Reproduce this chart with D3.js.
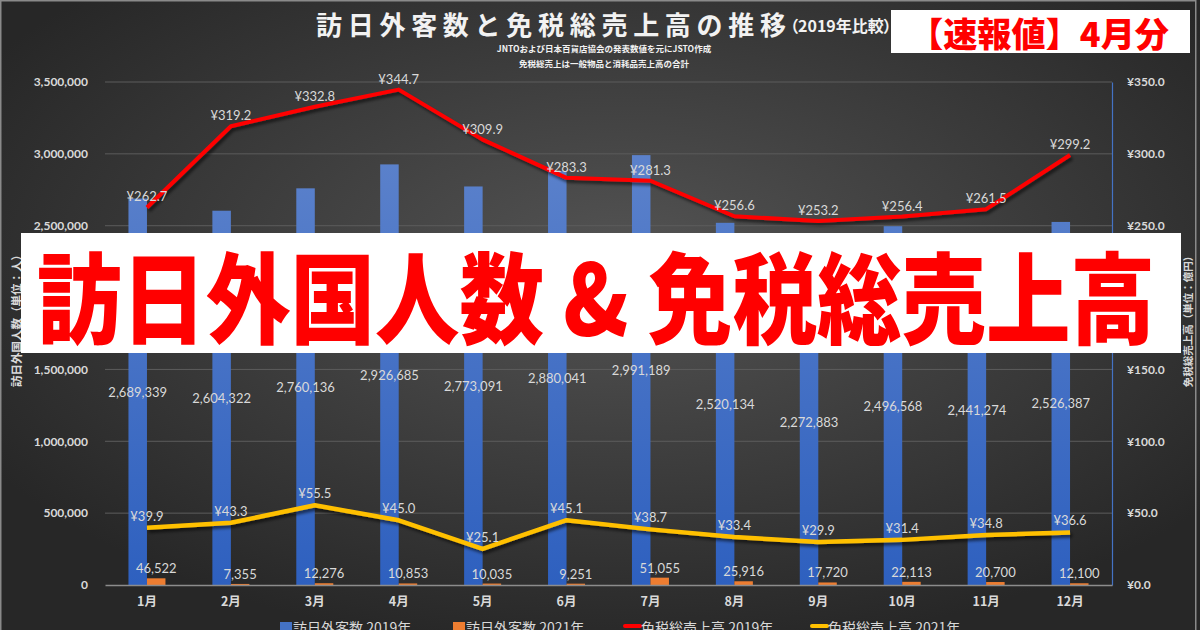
<!DOCTYPE html>
<html lang="ja">
<head>
<meta charset="UTF-8">
<title>訪日外客数と免税総売上高の推移</title>
<style>
    *{ margin:0; padding:0; box-sizing:border-box; }
    body{ width:1200px; height:630px; overflow:hidden; background:#333; }
    #main{ width:1200px; height:630px; }
    text{ font-family:"Noto Sans CJK JP","Noto Sans",sans-serif; }
    .num{ font-family:Lato,"Open Sans",sans-serif; }
</style>
</head>
<body>
<div id="main"></div>
<script src="https://d3js.org/d3.v7.min.js"></script>
<script>
    /* ---------- data ---------- */
    const months = ['1月','2月','3月','4月','5月','6月','7月','8月','9月','10月','11月','12月'];
    const visitors2019 = [2689339,2604322,2760136,2926685,2773091,2880041,2991189,2520134,2272883,2496568,2441274,2526387];
    const visitors2021 = [46522,7355,12276,10853,10035,9251,51055,25916,17720,22113,20700,12100];
    const sales2019 = [262.7,319.2,332.8,344.7,309.9,283.3,281.3,256.6,253.2,256.4,261.5,299.2];
    const sales2021 = [39.9,43.3,55.5,45.0,25.1,45.1,38.7,33.4,29.9,31.4,34.8,36.6];
    const leftTicks = [0,500000,1000000,1500000,2000000,2500000,3000000,3500000];
    const rightTicks = [0,50,100,150,200,250,300,350];
    const legendNames = ['訪日外客数 2019年','訪日外客数 2021年','免税総売上高 2019年','免税総売上高 2021年'];

    /* ---------- svg ---------- */
    const width = 1200, height = 630;
    const svg = d3.select('#main').append('svg')
        .attr('width', width).attr('height', height)
        .attr('viewBox', `0 0 ${width} ${height}`);

    const defs = svg.append('defs');
    const bg = defs.append('radialGradient').attr('id','bg')
        .attr('cx','52%').attr('cy','42%').attr('r','62%');
    bg.append('stop').attr('offset','0%').attr('stop-color','#545454');
    bg.append('stop').attr('offset','100%').attr('stop-color','#272727');

    const blueGrad = defs.append('linearGradient').attr('id','blueBar')
        .attr('gradientUnits','userSpaceOnUse')
        .attr('x1',0).attr('y1',82).attr('x2',0).attr('y2',585);
    blueGrad.append('stop').attr('offset','0%').attr('stop-color','#6387cd');
    blueGrad.append('stop').attr('offset','100%').attr('stop-color','#2e60bf');

    const shadow = defs.append('filter').attr('id','shadow')
        .attr('x','-5%').attr('y','-20%').attr('width','110%').attr('height','140%');
    shadow.append('feDropShadow').attr('dx',2).attr('dy',3).attr('stdDeviation',1.5)
        .attr('flood-color','#000').attr('flood-opacity',0.55);

    svg.append('rect').attr('width',width).attr('height',height).attr('fill','url(#bg)');
    svg.append('rect').attr('x',0.75).attr('y',0.75).attr('width',1195).attr('height',660)
        .attr('fill','none').attr('stroke','#8a8a8a').attr('stroke-width',1.5);

    /* ---------- scales ---------- */
    const plot = {left:105, right:1112, top:82, bottom:585};
    const x = d3.scaleBand().domain(months).range([plot.left, plot.right]);
    const yL = d3.scaleLinear().domain([0,3500000]).range([plot.bottom, plot.top]);
    const yR = d3.scaleLinear().domain([0,350]).range([plot.bottom, plot.top]);
    const cx = m => x(m) + x.bandwidth()/2;
    const barW = 18.5;

    /* gridlines */
    svg.append('g').selectAll('line').data(leftTicks.slice(1)).join('line')
        .attr('x1',plot.left).attr('x2',plot.right)
        .attr('y1',d=>yL(d)).attr('y2',d=>yL(d))
        .attr('stroke','#5c5c5c').attr('stroke-width',1);

    /* ---------- axes ---------- */
    const leftAxis = svg.append('g').attr('transform',`translate(${plot.left},0)`)
        .call(d3.axisLeft(yL).tickValues(leftTicks).tickSize(0).tickPadding(17).tickFormat(d3.format(',')));
    leftAxis.select('.domain').remove();
    leftAxis.selectAll('text').attr('class','num')
        .style('font-size','12px').style('font-weight','bold').attr('fill','#d9d9d9');

    const rightAxis = svg.append('g').attr('transform',`translate(${plot.right},0)`)
        .call(d3.axisRight(yR).tickValues(rightTicks).tickSize(0).tickPadding(15).tickFormat(d=>'¥'+d3.format('.1f')(d)));
    rightAxis.select('.domain').attr('stroke','#4472c4').attr('stroke-width',1.2);
    rightAxis.selectAll('text').attr('class','num')
        .style('font-size','12px').style('font-weight','bold').attr('fill','#d9d9d9');

    /* bars */
    svg.append('g').selectAll('rect').data(months).join('rect')
        .attr('x',m=>cx(m)-barW).attr('width',barW)
        .attr('y',(m,i)=>yL(visitors2019[i])).attr('height',(m,i)=>plot.bottom-yL(visitors2019[i]))
        .attr('fill','url(#blueBar)');
    svg.append('g').selectAll('rect').data(months).join('rect')
        .attr('x',m=>cx(m)).attr('width',barW)
        .attr('y',(m,i)=>yL(visitors2021[i])).attr('height',(m,i)=>plot.bottom-yL(visitors2021[i]))
        .attr('fill','#ed7d31');

    const bottomAxis = svg.append('g').attr('transform',`translate(0,${plot.bottom})`)
        .call(d3.axisBottom(x).tickSize(0).tickPadding(12));
    bottomAxis.select('.domain').attr('stroke','#8c8c8c').attr('stroke-width',1.3);
    bottomAxis.selectAll('text').style('font-size','12.5px').style('font-weight','bold')
        .style('font-family','"Noto Sans CJK JP",sans-serif').attr('fill','#d9d9d9');

    /* lines */
    const line = d3.line().x(d=>cx(d.m)).y(d=>yR(d.v));
    const pts = arr => months.map((m,i)=>({m, v:arr[i]}));
    svg.append('path').datum(pts(sales2019)).attr('d',line)
        .attr('fill','none').attr('stroke','#ff0000').attr('stroke-width',4)
        .attr('stroke-linejoin','round').attr('filter','url(#shadow)');
    svg.append('path').datum(pts(sales2021)).attr('d',line)
        .attr('fill','none').attr('stroke','#ffc000').attr('stroke-width',4.5)
        .attr('stroke-linejoin','round').attr('filter','url(#shadow)');

    /* data labels */
    const labels = svg.append('g').attr('class','num').attr('fill','#d9d9d9')
        .attr('text-anchor','middle').style('font-size','13px');
    labels.selectAll('.l19').data(months).join('text').attr('class','num')
        .attr('x',m=>cx(m)-barW/2).attr('y',(m,i)=>yL(visitors2019[i]/2)+5)
        .text((m,i)=>d3.format(',')(visitors2019[i]));
    labels.selectAll('.l21').data(months).join('text').attr('class','num')
        .attr('x',m=>cx(m)+barW/2).attr('y',(m,i)=>yL(visitors2021[i])-5)
        .text((m,i)=>d3.format(',')(visitors2021[i]));
    labels.selectAll('.s19').data(months).join('text').attr('class','num')
        .attr('x',m=>cx(m)).attr('y',(m,i)=>yR(sales2019[i])-6)
        .text((m,i)=>'¥'+d3.format('.1f')(sales2019[i]));
    labels.selectAll('.s21').data(months).join('text').attr('class','num')
        .attr('x',m=>cx(m)).attr('y',(m,i)=>yR(sales2021[i])-7)
        .text((m,i)=>'¥'+d3.format('.1f')(sales2021[i]));

    /* axis titles */
    svg.append('text').attr('transform','translate(16,318) rotate(-90)')
        .attr('text-anchor','middle').attr('dominant-baseline','central')
        .attr('fill','#d9d9d9').style('font-size','11.5px').style('font-weight','bold')
        .text('訪日外国人数（単位：人）');
    svg.append('text').attr('transform','translate(1187,319) rotate(-90)')
        .attr('text-anchor','middle').attr('dominant-baseline','central')
        .attr('fill','#d9d9d9').style('font-size','10.5px').style('font-weight','bold')
        .text('免税総売上高（単位：億円）');

    /* titles */
    svg.append('text').attr('x',316).attr('y',23).attr('dominant-baseline','central')
        .attr('fill','#f2f2f2').style('font-size','26px').style('font-weight','bold')
        .attr('textLength',470).attr('lengthAdjust','spacing')
        .text('訪日外客数と免税総売上高の推移');
    svg.append('text').attr('x',790).attr('y',25).attr('dominant-baseline','central')
        .attr('fill','#f2f2f2').style('font-size','16px').style('font-weight','bold')
        .style('font-feature-settings','"palt"')
        .text('（2019年比較）');
    svg.append('text').attr('x',604).attr('y',48).attr('text-anchor','middle').attr('dominant-baseline','central')
        .attr('fill','#f2f2f2').style('font-size','8.5px').style('font-weight','bold')
        .text('JNTOおよび日本百貨店協会の発表数値を元にJSTO作成');
    svg.append('text').attr('x',604).attr('y',63).attr('text-anchor','middle').attr('dominant-baseline','central')
        .attr('fill','#f2f2f2').style('font-size','8.5px').style('font-weight','bold')
        .text('免税総売上は一般物品と消耗品売上高の合計');

    /* legend */
    const legendX = [280,453,625,812];
    const legendColor = ['#4472c4','#ed7d31','#ff0000','#ffc000'];
    const lg = svg.append('g');
    legendNames.forEach((name,i)=>{
        if(i<2){
            lg.append('rect').attr('x',legendX[i]).attr('y',622).attr('width',12).attr('height',12).attr('fill',legendColor[i]);
        }else{
            lg.append('line').attr('x1',legendX[i]).attr('x2',legendX[i]+15).attr('y1',626).attr('y2',626)
                .attr('stroke',legendColor[i]).attr('stroke-width',4).attr('stroke-linecap','round');
        }
        lg.append('text').attr('x',legendX[i]+(i<2?13:16)).attr('y',633)
            .attr('fill','#d9d9d9').style('font-size','14px').text(name);
    });

    /* overlay banners */
    svg.append('rect').attr('x',891).attr('y',10).attr('width',299).attr('height',43).attr('fill','#fff');
    svg.append('text').attr('x',1039).attr('y',32).attr('text-anchor','middle').attr('dominant-baseline','central')
        .attr('fill','#ff0000').style('font-size','34px').style('font-weight',900)
        .attr('textLength',260).attr('lengthAdjust','spacingAndGlyphs')
        .text('【速報値】4月分');

    svg.append('rect').attr('x',21).attr('y',233).attr('width',1160).attr('height',120).attr('fill','#fff');
    svg.append('text').attr('transform','translate(596,293) scale(1,1.08)')
        .attr('text-anchor','middle').attr('dominant-baseline','central')
        .attr('fill','#ff0000').style('font-size','92px').style('font-weight',900)
        .attr('textLength',1118).attr('lengthAdjust','spacingAndGlyphs')
        .text('訪日外国人数 & 免税総売上高');
</script>
</body>
</html>
